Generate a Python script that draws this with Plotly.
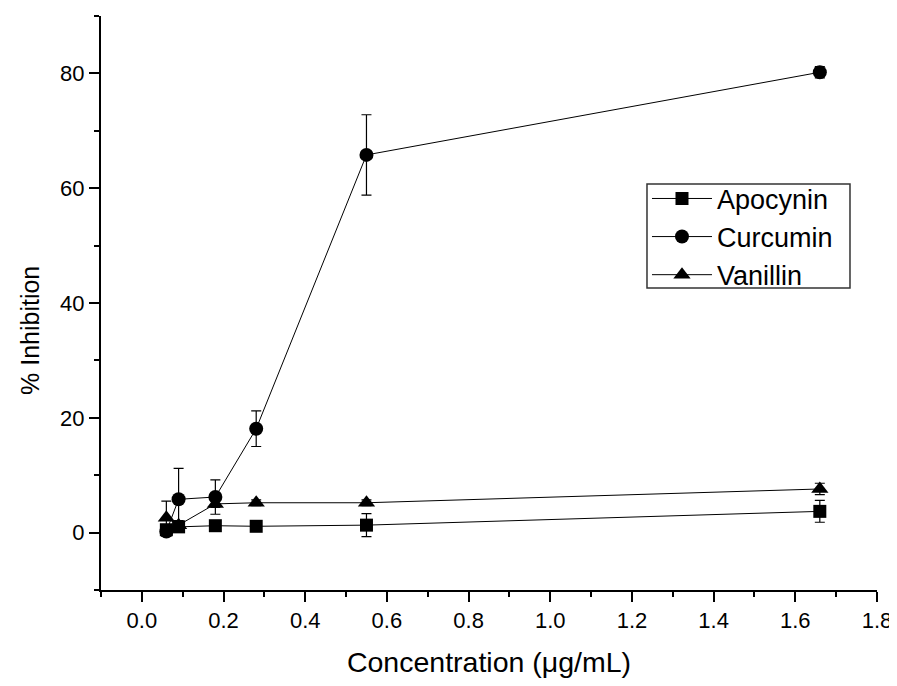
import plotly.graph_objects as go

conc = [0.06, 0.09, 0.18, 0.28, 0.55, 1.66]

apocynin = [0.5, 1.0, 1.2, 1.1, 1.3, 3.7]
apocynin_err = [0.8, 0.8, 0.6, 0.6, 2.0, 1.9]

curcumin = [0.2, 5.8, 6.2, 18.1, 65.8, 80.2]
curcumin_err = [0.8, 5.4, 3.0, 3.1, 7.0, 1.0]

vanillin = [2.6, 1.3, 5.0, 5.2, 5.2, 7.6]
vanillin_err = [2.9, 0.8, 0.6, 0.5, 0.5, 1.0]

x_ticks = [0.0, 0.2, 0.4, 0.6, 0.8, 1.0, 1.2, 1.4, 1.6, 1.8]
y_ticks = [0, 20, 40, 60, 80]

series = [
    ("Apocynin", apocynin, apocynin_err, "square", 13),
    ("Curcumin", curcumin, curcumin_err, "circle", 14),
    ("Vanillin", vanillin, vanillin_err, "triangle-up", 15),
]

fig = go.Figure()
for name, ys, errs, sym, sz in series:
    fig.add_trace(go.Scatter(
        x=conc, y=ys, name=name, mode="lines+markers",
        line=dict(color="black", width=1),
        marker=dict(symbol=sym, size=sz, color="black"),
        error_y=dict(type="data", array=errs, visible=True,
                     color="black", thickness=1.2, width=5),
    ))

font_family = "Liberation Sans, Arial, sans-serif"

# page body has an 8px default margin; the figure is sized to fit inside the window
fig.update_layout(
    width=889, height=670,
    margin=dict(l=93, r=20, t=8, b=88),
    paper_bgcolor="white", plot_bgcolor="white",
    font=dict(family=font_family, color="black"),
    showlegend=True,
    legend=dict(
        x=0.7036, y=0.724, xanchor="left", yanchor="top",
        borderwidth=0, bgcolor="rgba(0,0,0,0)",
        font=dict(size=27, family=font_family, color="black"),
        itemwidth=60, tracegroupgap=0,
    ),
    shapes=[dict(
        type="rect", xref="paper", yref="paper",
        x0=0.7036, x1=0.9652, y0=0.5261, y1=0.7073,
        line=dict(color="#333333", width=1.5), fillcolor="rgba(0,0,0,0)",
    )],
    annotations=[dict(
        text="% Inhibition", xref="paper", yref="paper",
        x=-0.0915, y=0.453, xanchor="center", yanchor="middle",
        textangle=-90, showarrow=False,
        font=dict(size=25, family=font_family, color="black"),
    )],
    xaxis=dict(
        range=[-0.1, 1.8], tickmode="array", tickvals=x_ticks,
        ticktext=[f"{v:.1f}" for v in x_ticks],
        showline=True, linecolor="black", linewidth=2, mirror=False,
        ticks="outside", ticklen=10, tickwidth=2, tickcolor="black",
        minor=dict(dtick=0.1, tick0=0, ticks="outside", ticklen=5, tickwidth=2, tickcolor="black"),
        showgrid=False, zeroline=False, automargin=False,
        ticklabeloverflow="allow",
        tickfont=dict(size=22, family=font_family),
        title=dict(text="Concentration (μg/mL)", font=dict(size=28.5, family=font_family), standoff=26),
    ),
    yaxis=dict(
        range=[-10, 90], tickmode="array", tickvals=y_ticks,
        showline=True, linecolor="black", linewidth=2, mirror=False,
        ticks="outside", ticklen=10, tickwidth=2, tickcolor="black",
        minor=dict(dtick=10, tick0=0, ticks="outside", ticklen=5, tickwidth=2, tickcolor="black"),
        showgrid=False, zeroline=False, automargin=False,
        tickfont=dict(size=22, family=font_family),
    ),
)

fig.write_html("out.html")
